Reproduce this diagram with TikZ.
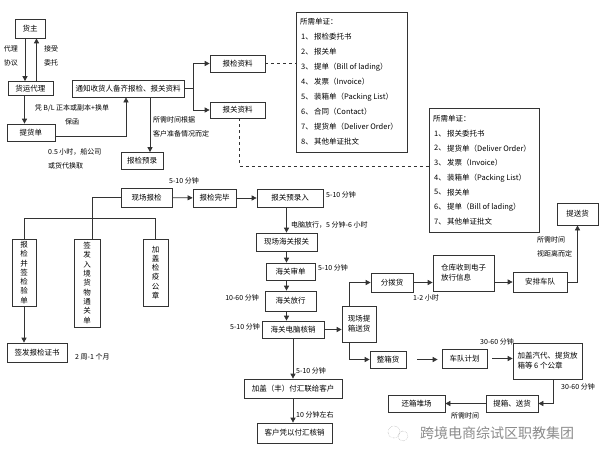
\documentclass[tikz,border=0pt]{standalone}
\usepackage{fontspec}
\setmainfont{Noto Sans CJK SC}
\usetikzlibrary{arrows.meta}

\begin{document}
\begin{tikzpicture}[x=1pt,y=-1pt,
  box/.style={draw=black!80,line width=0.7pt,inner sep=1pt,font=\fontsize{7.5}{10}\selectfont},
  vbox/.style={box,align=center,font=\fontsize{7.5}{9.3}\selectfont},
  lbl/.style={inner sep=0pt,align=left,font=\fontsize{7}{14}\selectfont},
  item/.style={inner sep=0pt,anchor=west,font=\fontsize{7.5}{9}\selectfont},
  ln/.style={line width=0.7pt,draw=black!80},
  arr/.style={ln,-{Triangle[length=5pt,width=5pt]}}]
  \fill[white] (0,0) rectangle (600,460);
  \useasboundingbox (0,0) rectangle (600,460);

  \node[box,minimum width=30,minimum height=19] (hz) at (30,28.5) {货主};
  \node[box,minimum width=45,minimum height=14] (dl) at (30.5,88.5) {货运代理};
  \node[box,minimum width=48,minimum height=17] (tdd) at (31,132.5) {提货单};
  \node[box,minimum width=112,minimum height=17] (tz) at (128,88.5) {通知收货人备齐报检、报关资料};
  \node[box,minimum width=55,minimum height=17] (bjzl) at (237.5,63.5) {报检资料};
  \node[box,minimum width=55,minimum height=16] (bgzl) at (237.5,110) {报关资料};
  \node[box,minimum width=42,minimum height=17] (bjyl) at (142,161) {报检预录};
  \node[box,minimum width=111,minimum height=140] (dz1) at (351.5,82) {};
  \node[box,minimum width=110,minimum height=124] (dz2) at (484,170) {};
  \node[box,minimum width=41,minimum height=22] (tsh) at (577.5,214) {提送货};
  \node[box,minimum width=51,minimum height=19] (xcbj) at (146.5,197.5) {现场报检};
  \node[box,minimum width=43,minimum height=18] (bjwb) at (214.5,198) {报检完毕};
  \node[box,minimum width=66,minimum height=18] (bgyl) at (290,198) {报关预录入};
  \node[box,minimum width=61,minimum height=18] (xchg) at (286.5,242) {现场海关报关};
  \node[box,minimum width=49,minimum height=17] (hgsd) at (290.5,271.5) {海关审单};
  \node[box,minimum width=51,minimum height=20] (hgfx) at (290.5,301) {海关放行};
  \node[box,minimum width=62,minimum height=17] (hghx) at (293,329.5) {海关电脑核销};
  \node[box,minimum width=34,minimum height=36,align=left] (xctx) at (359,324) {现场提\\箱送货};
  \node[box,minimum width=42,minimum height=19] (fbh) at (392,282.5) {分拨货};
  \node[box,minimum width=61,minimum height=36,align=left] (ck) at (463.5,273) {仓库收到电子\\放行信息};
  \node[box,minimum width=54,minimum height=20] (apcd) at (540,282) {安排车队};
  \node[box,minimum width=36,minimum height=17] (zxh) at (388,359.5) {整箱货};
  \node[box,minimum width=45,minimum height=19] (cdjh) at (464.5,358.5) {车队计划};
  \node[box,minimum width=69,minimum height=36,align=left] (jgz) at (547.5,361) {加盖汽代、提货放\\箱等 6 个公章};
  \node[box,minimum width=52,minimum height=17] (txsh) at (512,403.5) {提箱、送货};
  \node[box,minimum width=57,minimum height=17] (hxdc) at (416.5,403.5) {还箱堆场};
  \node[box,minimum width=98,minimum height=19] (jgfh) at (293,388.5) {加盖（丰）付汇联给客户};
  \node[box,minimum width=75,minimum height=20] (khpy) at (294.5,433) {客户凭以付汇核销};
  \node[vbox,minimum width=24,minimum height=67] (yb1) at (24,272.5) {报\\检\\并\\签\\检\\验\\单};
  \node[vbox,minimum width=26,minimum height=88] (yb2) at (87,283) {签\\发\\入\\境\\货\\物\\通\\关\\单};
  \node[vbox,minimum width=25,minimum height=67] (yb3) at (155.5,272.5) {加\\盖\\检\\疫\\公\\章};
  \node[box,minimum width=60,minimum height=19] (qfzs) at (37,352.5) {签发报检证书};

  \node[item] at (300,22) {所需单证：};
  \foreach \i/\t in {1/报检委托书,2/报关单,3/提单（Bill of lading）,4/发票（Invoice）,5/装箱单（Packing List）,6/合同（Contact）,7/提货单（Deliver Order）,8/其他单证批文}
  {
    \node[item] at (301,22+15*\i) {\i、};
    \node[item] at (314,22+15*\i) {\t};
  }
  \node[item] at (433,119) {所需单证：};
  \foreach \i/\t in {1/报关委托书,2/提货单（Deliver Order）,3/发票（Invoice）,4/装箱单（Packing List）,5/报关单,6/提单（Bill of lading）,7/其他单证批文}
  {
    \node[item] at (434,119+14.7*\i) {\i、};
    \node[item] at (447,119+14.7*\i) {\t};
  }

  \draw[arr] ([xshift=-5pt]hz.south) -- ([xshift=-5pt]hz.south |- dl.north);
  \draw[arr] ([xshift=6pt]dl.north) -- ([xshift=6pt]dl.north |- hz.south);
  \draw[arr] ([xshift=-6pt]dl.south) -- ([xshift=-6pt]dl.south |- tdd.north);
  \draw[arr] ([yshift=-4pt]tdd.east) -| ([xshift=-2pt]tz.south);
  \coordinate (fk) at (193,88.5);
  \draw[ln] (tz.east) -- (fk);
  \draw[arr] (fk) |- (bjzl.west);
  \draw[arr] (fk) |- (bgzl.west);
  \draw[arr] ([xshift=22pt]tz.south) -- ([xshift=22pt]tz.south |- bjyl.north);
  \draw[ln,dashed] (bjzl.east) -- (bjzl.east -| dz1.west);
  \draw[ln,dashed] ([xshift=2pt]bgzl.south) |- ([yshift=4pt]dz2.west);
  \draw[arr] (xcbj) -- (bjwb);
  \draw[arr] (bjwb) -- (bgyl);
  \draw[arr] (xchg.north |- bgyl.south) -- (xchg.north);
  \draw[arr] (xchg.south) -- (xchg.south |- hgsd.north);
  \draw[arr] (xchg.south |- hgsd.south) -- (xchg.south |- hgfx.north);
  \draw[arr] (xchg.south |- hgfx.south) -- (xchg.south |- hghx.north);
  \draw[arr] (hghx.east) -- (hghx.east -| xctx.west);
  \draw[arr] ([xshift=-10pt]xctx.north) |- (fbh.west);
  \draw[arr] (fbh.east) -- (fbh.east -| ck.west);
  \draw[arr] (apcd.west -| ck.east) -- (apcd.west);
  \draw[arr] (apcd.east) -| (tsh.south);
  \draw[arr] ([xshift=-10pt]xctx.south) |- (zxh.west);
  \draw[arr,shorten <=11pt,shorten >=4pt] (zxh.east) -- (zxh.east -| cdjh.west);
  \draw[arr,shorten <=5pt] (cdjh.east) -- (cdjh.east -| jgz.west);
  \draw[arr] ([xshift=5.5pt]jgz.south) |- (txsh.east);
  \draw[arr] (txsh) -- (hxdc);
  \draw[arr] (jgfh.north |- hghx.south) -- (jgfh.north);
  \draw[arr] (jgfh.south) -- (jgfh.south |- khpy.north);
  \draw[ln] (xcbj.west) -| ([xshift=5pt]yb2.north);
  \coordinate (bar) at (24,218);
  \draw[ln] (yb1.north) -- (bar) -- (bar -| yb3.north) -- (yb3.north);
  \draw[arr] (yb1.south) -- (yb1.south |- qfzs.north);

  \node[lbl,align=center] at (11,56) {代理\\协议};
  \node[lbl,align=center] at (51,56) {接受\\委托};
  \node[lbl,align=center] at (72,115) {凭 B/L 正本或副本+换单\\保函};
  \node[lbl,anchor=west] at (48,159) {0.5 小时，船公司\\或货代换取};
  \node[lbl,anchor=west] at (153,127) {所需时间根据\\客户准备情况而定};
  \node[lbl] at (184,181) {5-10 分钟};
  \node[lbl,anchor=west] at (326,195) {5-10 分钟};
  \node[lbl,anchor=west] at (291,225) {电脑放行，5 分钟-6 小时};
  \node[lbl,anchor=west] at (318,268) {5-10 分钟};
  \node[lbl,anchor=east] at (259,298) {10-60 分钟};
  \node[lbl,anchor=east] at (260,327) {5-10 分钟};
  \node[lbl] at (426,298) {1-2 小时};
  \node[lbl,anchor=west] at (537,247) {所需时间\\视距离而定};
  \node[lbl] at (497,342) {30-60 分钟};
  \node[lbl] at (578,387) {30-60 分钟};
  \node[lbl] at (465,416) {所需时间};
  \node[lbl,anchor=west] at (75,357) {2 周-1 个月};
  \node[lbl,anchor=west] at (296,371) {5-10 分钟};
  \node[lbl,anchor=west] at (296,415) {10 分钟左右};

  \draw[black!40,densely dotted] (394,432) circle (6) (403,436) circle (5);
  \node[text=black!45,font=\fontsize{14}{14}\selectfont] (wm) at (497,433) {跨境电商综试区职教集团};
\end{tikzpicture}
\end{document}
